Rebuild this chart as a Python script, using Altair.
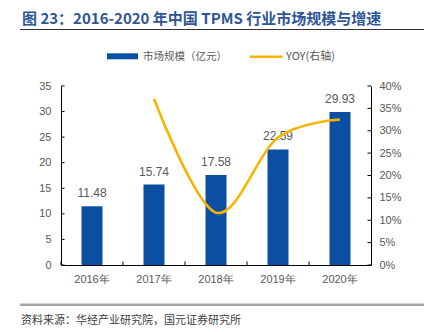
import altair as alt
import pandas as pd

years = ["2016年", "2017年", "2018年", "2019年", "2020年"]
market = [11.48, 15.74, 17.58, 22.59, 29.93]
yoy_years = ["2017年", "2018年", "2019年", "2020年"]
yoy = [0.371, 0.117, 0.285, 0.325]
left_ticks = [0, 5, 10, 15, 20, 25, 30, 35]
right_ticks = [0, 0.05, 0.10, 0.15, 0.20, 0.25, 0.30, 0.35, 0.40]

title_text = "图 23：2016-2020 年中国 TPMS 行业市场规模与增速"
legend_bar = "市场规模（亿元）"
legend_line = "YOY(右轴)"
source_text = "资料来源：华经产业研究院，国元证券研究所"

W, H = 310, 179
BLUE = "#0B4EA2"
GOLD = "#F7B500"
GRAY = "#595959"
FONT = "Liberation Sans"
CJK = "Noto Sans CJK SC"

bar_df = pd.DataFrame({"year": years, "value": market})
yoy_df = pd.DataFrame({"year": yoy_years, "yoy": yoy})
lt_df = pd.DataFrame({"value": left_ticks})
rt_df = pd.DataFrame({"yoy": right_ticks})
xt_df = pd.DataFrame({"year": years})

xscale = alt.Scale(domain=years, paddingInner=0, paddingOuter=0)
xaxis = alt.Axis(title=None, labelColor=GRAY, labelFontSize=11, labelFont=FONT,
                 labelPadding=8, ticks=False, domainColor="#000000", labelAngle=0)
lscale = alt.Scale(domain=[0, 35], nice=False, zero=True)
rscale = alt.Scale(domain=[0, 0.4], nice=False, zero=True)
laxis = alt.Axis(title=None, values=left_ticks, labelColor=GRAY, labelFontSize=11,
                 labelFont=FONT, labelPadding=10, ticks=False, grid=False,
                 domainColor="#000000", orient="left")
raxis = alt.Axis(title=None, values=right_ticks, format=".0%", labelColor=GRAY,
                 labelFontSize=11, labelFont=FONT, labelPadding=8, ticks=False,
                 grid=False, domainColor="#000000", orient="right")

bars = alt.Chart(bar_df).mark_bar(size=21, color=BLUE).encode(
    x=alt.X("year:N", scale=xscale, axis=xaxis, sort=years),
    y=alt.Y("value:Q", scale=lscale, axis=laxis),
)
labels = alt.Chart(bar_df).mark_text(color=GRAY, fontSize=12, font=FONT, baseline="middle", dy=-13).encode(
    x=alt.X("year:N", scale=xscale, axis=xaxis, sort=years, bandPosition=0.5),
    y=alt.Y("value:Q", scale=lscale, axis=laxis),
    text=alt.Text("value:Q", format=".2f"),
)
lticks = alt.Chart(lt_df).mark_rule(color="#000000", strokeWidth=1).encode(
    y=alt.Y("value:Q", scale=lscale, axis=laxis),
    x=alt.value(0), x2=alt.value(3.5),
)
xticks = alt.Chart(xt_df).mark_rule(color="#000000", strokeWidth=1).encode(
    x=alt.X("year:N", scale=xscale, axis=xaxis, sort=years, bandPosition=0),
    y=alt.value(H), y2=alt.value(H - 3.5),
)
left = alt.layer(bars, labels, lticks, xticks)

line = alt.Chart(yoy_df).mark_line(color=GOLD, strokeWidth=2.6, interpolate="cardinal").encode(
    x=alt.X("year:N", scale=xscale, axis=xaxis, sort=years, bandPosition=0.5),
    y=alt.Y("yoy:Q", scale=rscale, axis=raxis),
)
rticks = alt.Chart(rt_df).mark_rule(color="#000000", strokeWidth=1).encode(
    y=alt.Y("yoy:Q", scale=rscale, axis=raxis),
    x=alt.value(W), x2=alt.value(W - 3.5),
)
right = alt.layer(line, rticks)

one = pd.DataFrame({"k": [0]})
base = alt.Chart(one)

title = base.mark_text(text=title_text, font=CJK, fontSize=15, fontWeight="bold", color="#2F5597",
                       align="left", baseline="middle").encode(x=alt.value(-39), y=alt.value(-67))
title_rule = base.mark_rule(color="#333333", strokeWidth=1).encode(
    x=alt.value(-41), x2=alt.value(363), y=alt.value(-56.5))
leg_rect = base.mark_rect(color=BLUE).encode(
    x=alt.value(46), x2=alt.value(77), y=alt.value(-32.7), y2=alt.value(-26.7))
leg_t1 = base.mark_text(text=legend_bar, font=CJK, fontSize=10.5, color=GRAY, align="left",
                        baseline="middle").encode(x=alt.value(82), y=alt.value(-29.5))
leg_line = base.mark_rule(color=GOLD, strokeWidth=2.6).encode(
    x=alt.value(189), x2=alt.value(221.5), y=alt.value(-29.3))
leg_t2 = base.mark_text(text=legend_line, font=CJK, fontSize=11, color=GRAY, align="left",
                        baseline="middle").encode(x=alt.value(225), y=alt.value(-29.5))
foot_rule = base.mark_rule(color="#A6A6A6", strokeWidth=2.5).encode(
    x=alt.value(-41), x2=alt.value(363), y=alt.value(218.7))
source = base.mark_text(text=source_text, font=CJK, fontSize=11, color="#404040", align="left",
                        baseline="middle").encode(x=alt.value(-40), y=alt.value(234.5))

chart = alt.layer(left, right, title, title_rule, leg_rect, leg_t1, leg_line, leg_t2,
                  foot_rule, source).resolve_scale(y="independent").properties(
    width=W, height=H,
    autosize=alt.AutoSizeParams(type="none"),
    padding={"left": 61, "top": 86, "right": 61, "bottom": 67},
    background="#FFFFFF",
).configure_view(stroke=None)

chart.save("out.html", embed_options={"renderer": "svg", "actions": False})
